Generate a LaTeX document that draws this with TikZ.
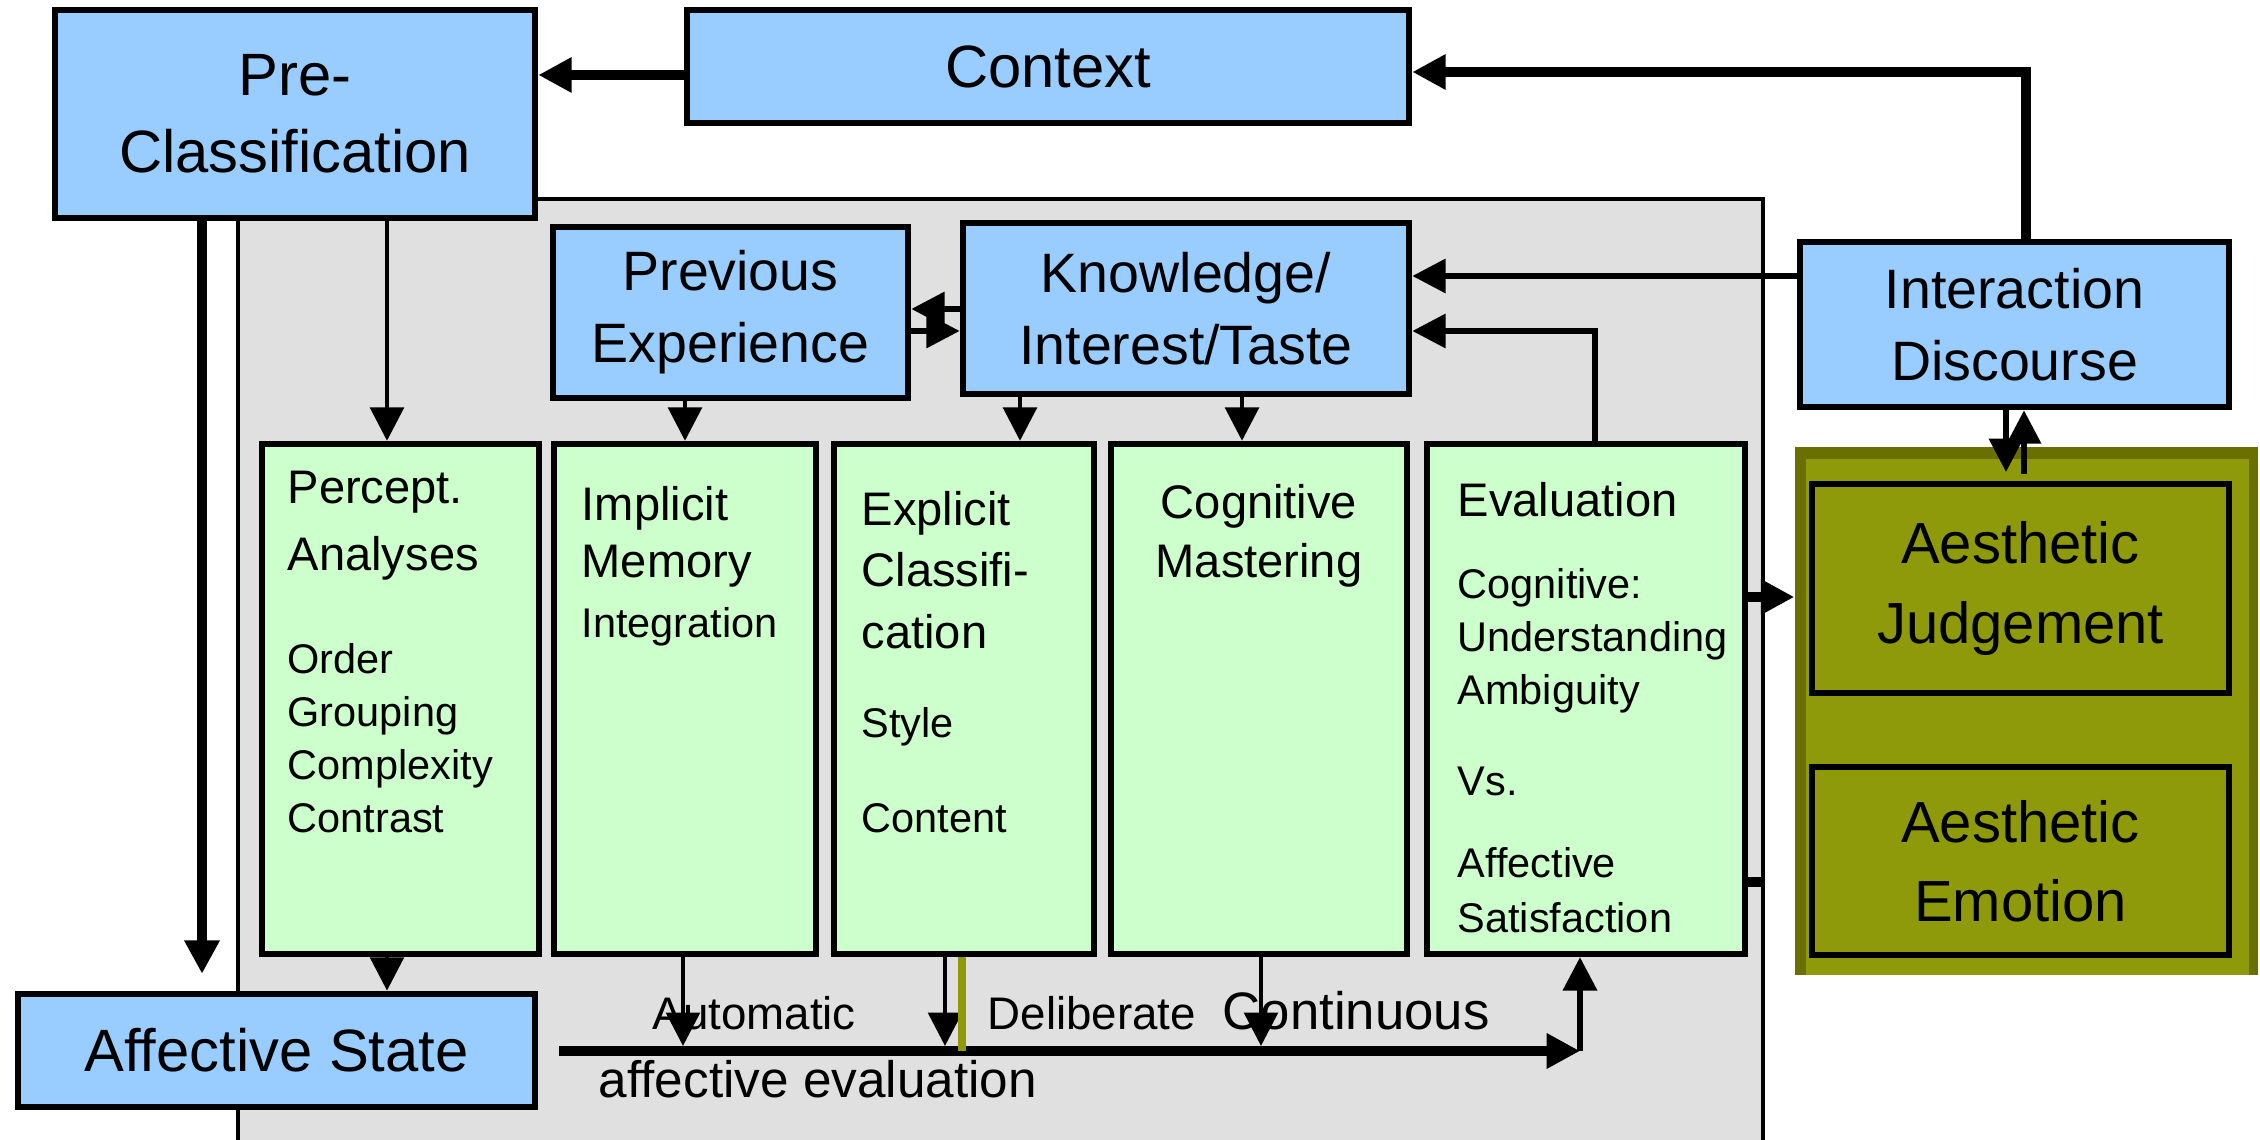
\documentclass[tikz,border=0pt]{standalone}
\usepackage{fontspec}
\setmainfont{Liberation Sans}
\usetikzlibrary{arrows.meta}

\definecolor{boxblue}{RGB}{153,204,255}
\definecolor{boxgreen}{RGB}{204,255,204}
\definecolor{panelgray}{RGB}{224,224,224}
\definecolor{olivefill}{RGB}{142,154,10}
\definecolor{olivedark}{RGB}{107,111,0}

\tikzset{
  >={Triangle[length=9.5pt,width=9.5pt]},
  bluebox/.style={draw,line width=1.9pt,fill=boxblue,align=center,inner sep=0pt},
  greenbox/.style={draw,line width=1.8pt,fill=boxgreen,inner sep=0pt},
  olivebox/.style={draw,line width=1.8pt,fill=olivefill,align=center,inner sep=0pt},
  bigtext/.style={font=\fontsize{17}{22}\selectfont},
  midtext/.style={font=\fontsize{15.8}{20.5}\selectfont},
  aestext/.style={font=\fontsize{16.5}{22.5}\selectfont},
  headtext/.style={font=\fontsize{13.4}{#1}\selectfont},
  smalltext/.style={font=\fontsize{11.8}{#1}\selectfont},
  coltext/.style={anchor=north west,inner sep=0pt,align=left},
  barlabel/.style={anchor=base west,inner sep=0pt},
  slimline/.style={line width=1.3pt},
  midline/.style={line width=1.6pt},
  fatline/.style={line width=2.7pt}
}

\begin{document}
\begin{tikzpicture}[x=0.1mm,y=-0.1mm]
\useasboundingbox (0,0) rectangle (2260,1140);

\fill[panelgray] (238,199) rectangle (1763,1160);
\draw[line width=1.4pt] (238,1160) -- (238,199) -- (1763,199) -- (1763,1160);

\node[fill=olivefill,inner sep=0pt,minimum width=46.3mm,minimum height=52.8mm] (aesout) at (2026.5,711) {};
\fill[olivedark] (1795,447) rectangle (2258,459);
\fill[olivedark] (1795,459) rectangle (1806,975);
\fill[olivedark] (2249,459) rectangle (2258,975);

\node[bluebox,bigtext,minimum width=48mm,minimum height=20.8mm] (pre) at (295,114) {Pre-\\Classification};
\node[bluebox,bigtext,minimum width=72.2mm,minimum height=11.3mm] (ctx) at (1048,66.5) {Context};
\node[bluebox,midtext,minimum width=35.5mm,minimum height=17.1mm] (prev) at (730.5,312.5) {Previous\\Experience};
\node[bluebox,midtext,minimum width=44.6mm,minimum height=17.1mm] (know) at (1186,308.5) {Knowledge/\\Interest/Taste};
\node[bluebox,midtext,minimum width=42.9mm,minimum height=16.5mm] (inter) at (2014.5,324.5) {Interaction\\Discourse};
\node[bluebox,bigtext,minimum width=51.7mm,minimum height=11.3mm] (aff) at (276.5,1050.5) {Affective State};

\foreach \n/\x/\w in {per/400.5/27.7, imp/685/26.2, exp/964/26, cog/1259/29.6, eva/1586/31.8}
  \node[greenbox,minimum width=\w mm,minimum height=51mm] (\n) at (\x,699) {};

\node[olivebox,aestext,minimum width=41.7mm,minimum height=20.9mm] (judg) at (2020.5,588.5) {Aesthetic\\Judgement};
\node[olivebox,aestext,minimum width=41.7mm,minimum height=18.8mm] (emo) at (2020.5,861) {Aesthetic\\Emotion};

\node[coltext,headtext=19.3pt] (perA) at (287,470) {Percept.\\Analyses};
\node[coltext,smalltext=15.1pt] (perB) at (287,643) {Order\\Grouping\\Complexity\\Contrast};
\node[coltext,headtext=16.2pt] (impA) at (581,486) {Implicit\\Memory};
\node[coltext,smalltext=15pt] (impB) at (581,607) {Integration};
\node[coltext,headtext=17.4pt] (expA) at (861,491) {Explicit\\Classifi-\\cation};
\node[coltext,smalltext=27pt] (expB) at (861,707) {Style\\Content};
\node[anchor=north,inner sep=0pt,align=center,headtext=16.8pt] (cogA) at (1259,484) {Cognitive\\Mastering};
\node[coltext,headtext=16pt] (evaA) at (1457,482) {Evaluation};
\node[coltext,smalltext=15.1pt] (evaB) at (1457,568) {Cognitive:\\Understanding\\Ambiguity};
\node[coltext,smalltext=15pt] (evaC) at (1457,766) {Vs.};
\node[coltext,smalltext=15.6pt] (evaD) at (1457,847) {Affective\\Satisfaction};

\draw[fatline,->] (ctx.west |- 0,75) -- (pre.east |- 0,75);
\draw[fatline,->] (2026,0 |- inter.north) |- (ctx.east |- 0,72);
\draw[midline,->] (inter.west |- 0,276) -- (know.east |- 0,276);
\draw[midline,->] (1595,0 |- eva.north) |- (know.east |- 0,331);
\draw[midline,->] (know.west |- 0,309) -- (prev.east |- 0,309);
\draw[midline,->] (prev.east |- 0,331) -- (know.west |- 0,331);

\foreach \x/\a/\b in {387/pre/per, 685/prev/imp, 1020/know/exp, 1242/know/cog}
  \draw[slimline,->] (\x,0 |- \a.south) -- (\x,0 |- \b.north);

\draw[fatline,->,shorten >=4.8pt] (202,0 |- pre.south) -- (202,0 |- aff.north);
\draw[slimline,->] (387,0 |- per.south) -- (387,0 |- aff.north);

\coordinate (barL) at (559,1051);
\coordinate (barR) at (1580,1051);
\draw[fatline,->] (barL) -- (barR);
\draw[midline,->] (barR) -- (barR |- eva.south);
\foreach \x/\n in {683/imp, 945/exp, 1261/cog}
  \draw[slimline,->] (\x,0 |- \n.south) -- (\x,1046);
\draw[line width=2pt,olivefill] (962,0 |- exp.south) -- (962,1051);

\draw[fatline,->] (eva.east |- 0,597) -- (aesout.west |- 0,597);
\draw[fatline] (eva.east |- 0,882) -- (1764,882);

\draw[midline,->] (2006,0 |- inter.south) -- (2006,472);
\draw[midline,->] (2024,474) -- (2024,0 |- inter.south);

\node[barlabel,font=\fontsize{13}{15}\selectfont] (auto) at (652,1030) {Automatic};
\node[barlabel,font=\fontsize{13}{15}\selectfont] (delib) at (987,1030) {Deliberate};
\node[barlabel,font=\fontsize{15}{18}\selectfont] (cont) at (1222,1030) {Continuous};
\node[barlabel,font=\fontsize{14.6}{17}\selectfont] (affev) at (598,1098) {affective evaluation};
\end{tikzpicture}
\end{document}
